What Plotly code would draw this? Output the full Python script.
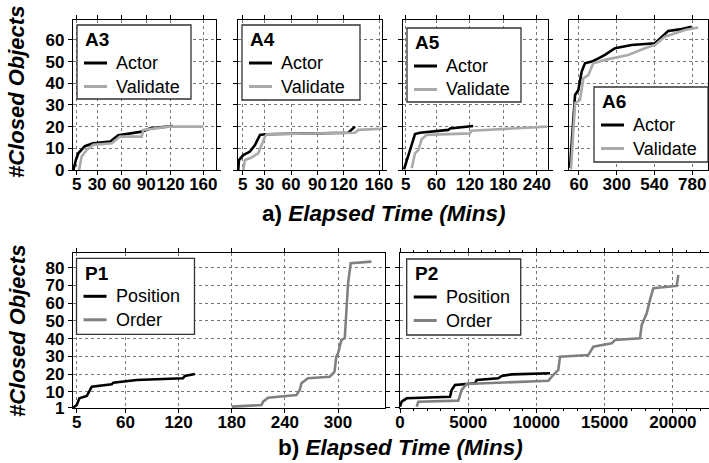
import plotly.graph_objects as go

# ---------------- data ----------------
a3_actor_x = [1, 4, 7, 15, 25, 46, 56, 85, 95, 123]
a3_actor_y = [0, 4.6, 7.7, 11, 12.3, 13.1, 16, 17.7, 19.2, 20.3]
a3_valid_x = [8, 11, 17, 25, 48, 58, 84.6, 86.5, 101, 118, 160]
a3_valid_y = [0, 6.1, 9.2, 11.6, 12.3, 15.4, 15.4, 18.5, 19.2, 20, 20]

a4_actor_x = [0, 0.8, 5.7, 13.3, 19, 24.7, 30.4, 125, 132.7]
a4_actor_y = [0, 4.6, 6.9, 8.5, 11.5, 16.2, 16.5, 17.2, 20]
a4_valid_x = [5.7, 7.6, 13.3, 22.7, 30.4, 32.3, 132.7, 136.5, 163]
a4_valid_y = [0, 4.6, 5.4, 7.7, 15.4, 16.5, 17.2, 18.5, 19]

a5_actor_x = [2, 15.8, 21.7, 30.7, 81.4, 84.5, 126]
a5_actor_y = [0.3, 12.3, 16.6, 17.2, 18.5, 19.2, 20.3]
a5_valid_x = [15.8, 21.7, 27.6, 33.7, 42.7, 120, 123, 258]
a5_valid_y = [0.8, 7.7, 9.2, 14.2, 16.2, 16.9, 18.1, 20]

a6_actor_x = [3, 35, 56, 77, 98, 141, 183, 225, 289, 395, 543, 585, 627, 712, 776]
a6_actor_y = [1, 34.6, 36.9, 45.4, 49.2, 50, 51.5, 53.1, 56.2, 57.7, 58.5, 61.5, 64.1, 65, 66.1]
a6_valid_x = [9, 35, 66, 88, 119, 151, 225, 373, 479, 543, 606, 733, 818]
a6_valid_y = [0.3, 30.8, 32.3, 42.3, 43.8, 49.2, 50.8, 53.1, 56.2, 57.7, 61.5, 64.6, 65.7]

p1_pos_x = [1, 5, 8, 16.3, 22, 44.5, 46.3, 72.7, 125, 127, 138.4]
p1_pos_y = [1, 2.5, 6.3, 7.6, 12.9, 14.2, 15.1, 16.6, 17.6, 18.9, 20]
p1_ord_x = [180, 213.6, 215.4, 221, 253, 256.8, 258.7, 266, 290.6, 296, 298, 300,
            303.8, 307.6, 311.3, 314.3, 337.7]
p1_ord_y = [1.6, 2.5, 4.4, 6.6, 8.2, 11, 14.8, 17.6, 18.5, 21.3, 29.8, 31.7,
            39.2, 40.2, 71.2, 82.5, 83.4]

p2_pos_x = [0, 122, 489, 3665, 3787, 4031, 5498, 5620, 7207, 7451, 8184, 10995]
p2_pos_y = [1.6, 4.4, 6.3, 7.2, 11, 13.8, 14.8, 16.6, 17.6, 18.9, 19.8, 20.4]
p2_ord_x = [1222, 1344, 4276, 4520, 4887, 6230, 10872, 11239, 11605, 11728, 13803,
            14170, 15517, 15760, 17592, 17717, 18083, 18325, 18570, 20283, 20400]
p2_ord_y = [1.6, 4.4, 5, 11, 14.4, 14.8, 16.2, 19.5, 22.3, 29.8, 30.7,
            35.4, 37.3, 39.2, 40.2, 47.7, 54.3, 61.8, 68.4, 69.7, 75.9]

top_yticks = [0, 10, 20, 30, 40, 50, 60]
bot_yticks = [1, 10, 20, 30, 40, 50, 60, 70, 80]
a3_xticks = [5, 30, 60, 90, 120, 160]
a4_xticks = [5, 30, 60, 90, 120, 160]
a5_xticks = [5, 60, 120, 180, 240]
a6_xticks = [60, 300, 540, 780]
p1_xticks = [5, 60, 120, 180, 240, 300]
p2_xticks = [0, 5000, 10000, 15000, 20000]

# ---------------- styling ----------------
W, H = 709, 463
FONT = "Liberation Sans, Arial, Helvetica, sans-serif"
BLACK = "#000000"
LIGHT = "#aaaaaa"
MID = "#808080"
LW = 2.6
tickfont = dict(family=FONT, size=17, color="black", weight="bold")

def px_x(p):
    return p / W

def px_y(p):
    return (H - p) / H

fig = go.Figure()

panels = [
    # name, axis suffix, x-domain px, y-domain px, xrange, yrange, xticks, yticks,
    # show y labels, series, legend box (x0, y0, w, h) in px
    ("A3", "", (73, 216), (20, 170), [0.5, 175.5], [0, 69.2], a3_xticks, top_yticks, True,
     [("Actor", a3_actor_x, a3_actor_y, BLACK), ("Validate", a3_valid_x, a3_valid_y, LIGHT)],
     (77, 25, 114, 74)),
    ("A4", "2", (238, 382), (20, 170), [-0.3, 163.4], [0, 69.2], a4_xticks, top_yticks, False,
     [("Actor", a4_actor_x, a4_actor_y, BLACK), ("Validate", a4_valid_x, a4_valid_y, LIGHT)],
     (242, 25, 118, 75)),
    ("A5", "3", (403, 548), (20, 170), [0.2, 260], [0, 69.2], a5_xticks, top_yticks, False,
     [("Actor", a5_actor_x, a5_actor_y, BLACK), ("Validate", a5_valid_x, a5_valid_y, LIGHT)],
     (407, 28, 114, 74)),
    ("A6", "4", (569, 708), (20, 170), [-3.5, 880], [0, 69.2], a6_xticks, top_yticks, False,
     [("Actor", a6_actor_x, a6_actor_y, BLACK), ("Validate", a6_valid_x, a6_valid_y, LIGHT)],
     (594, 87, 114, 75)),
    ("P1", "5", (73, 385), (253.3, 408.3), [0.8, 353], [0.66, 88.1], p1_xticks, bot_yticks, True,
     [("Position", p1_pos_x, p1_pos_y, BLACK), ("Order", p1_ord_x, p1_ord_y, MID)],
     (76.5, 258.3, 118, 76)),
    ("P2", "6", (400, 709), (253.3, 408.3), [0, 22650], [0.66, 88.1], p2_xticks, bot_yticks, False,
     [("Position", p2_pos_x, p2_pos_y, BLACK), ("Order", p2_ord_x, p2_ord_y, MID)],
     (406.7, 259, 114, 76)),
]

layout = dict(
    template="none",
    width=W, height=H,
    margin=dict(l=0, r=0, t=0, b=0, pad=0, autoexpand=False),
    paper_bgcolor="white", plot_bgcolor="white",
    showlegend=False,
    font=dict(family=FONT, color="black"),
)

shapes = []
annots = []

for i, (name, suf, xd, yd, xr, yr, xt, yt, showy, series, lg) in enumerate(panels):
    for label, xs, ys, col in series:
        fig.add_trace(go.Scatter(
            x=xs, y=ys, mode="lines", name=f"{name} {label}",
            line=dict(color=col, width=LW),
            xaxis="x" + suf, yaxis="y" + suf,
            showlegend=False, hoverinfo="skip",
        ))
    xa = dict(
        domain=[px_x(xd[0]), min(1.0, px_x(xd[1]))],
        range=xr, anchor="y" + suf, automargin=False,
        tickmode="array", tickvals=xt, ticktext=[str(v) for v in xt],
        tickangle=0, tickfont=tickfont, ticklabelstandoff=-6,
        ticks="outside", ticklen=4, tickwidth=1, tickcolor="black",
        showline=True, linecolor="black", linewidth=1.3, mirror="ticks",
        showgrid=True, gridcolor="#777777", griddash="dot", gridwidth=1,
        zeroline=False,
    )
    if name == "P2":
        xa["minor"] = dict(dtick=1000, ticks="outside", ticklen=2, tickcolor="black", showgrid=False)
    ya = dict(
        domain=[px_y(yd[1]), px_y(yd[0])],
        range=yr, anchor="x" + suf, automargin=False,
        tickmode="array", tickvals=yt, ticktext=[str(v) for v in yt],
        showticklabels=showy, tickfont=tickfont,
        ticks="outside", ticklen=4, tickwidth=1, tickcolor="black",
        showline=True, linecolor="black", linewidth=1.3, mirror="ticks",
        showgrid=True, gridcolor="#777777", griddash="dot", gridwidth=1,
        zeroline=False,
    )
    layout["xaxis" + suf] = xa
    layout["yaxis" + suf] = ya

    # legend key box in paper coordinates
    x0, y0, w, h = lg
    shapes.append(dict(type="rect", xref="paper", yref="paper",
                       x0=px_x(x0), x1=px_x(x0 + w), y0=px_y(y0 + h), y1=px_y(y0),
                       line=dict(color="#333333", width=1.3), fillcolor="white", layer="above"))
    annots.append(dict(text="<b>" + name + "</b>", x=px_x(x0 + 6), y=px_y(y0 + 15),
                       xanchor="left", yanchor="middle", size=19, textangle=0))
    for k, (label, xs, ys, col) in enumerate(series):
        yy = y0 + 38 + 23.5 * k
        shapes.append(dict(type="line", xref="paper", yref="paper",
                           x0=px_x(x0 + 7), x1=px_x(x0 + 30), y0=px_y(yy), y1=px_y(yy),
                           line=dict(color=col, width=LW + 0.4), layer="above"))
        annots.append(dict(text=label, x=px_x(x0 + 37), y=px_y(yy),
                           xanchor="left", yanchor="middle", size=18, textangle=0))

layout["shapes"] = shapes
fig.update_layout(**layout)

annots += [
    dict(text="<b><i>#Closed Objects</i></b>", x=px_x(17), y=px_y(92), textangle=-90, size=22,
         xanchor="center", yanchor="middle"),
    dict(text="<b><i>#Closed Objects</i></b>", x=px_x(17), y=px_y(331), textangle=-90, size=22,
         xanchor="center", yanchor="middle"),
    dict(text="<b>a) <i>Elapsed Time (Mins)</i></b>", x=px_x(383), y=px_y(213), textangle=0, size=22.5,
         xanchor="center", yanchor="middle"),
    dict(text="<b>b) <i>Elapsed Time (Mins)</i></b>", x=px_x(400), y=px_y(447), textangle=0, size=22.5,
         xanchor="center", yanchor="middle"),
]
for a in annots:
    fig.add_annotation(
        text=a["text"], x=a["x"], y=a["y"], xref="paper", yref="paper",
        xanchor=a["xanchor"], yanchor=a["yanchor"], showarrow=False, textangle=a["textangle"],
        font=dict(family=FONT, size=a["size"], color="black"),
    )

fig.write_html("out.html", config={"displayModeBar": False},
               post_script="document.body.style.margin='0px';")
